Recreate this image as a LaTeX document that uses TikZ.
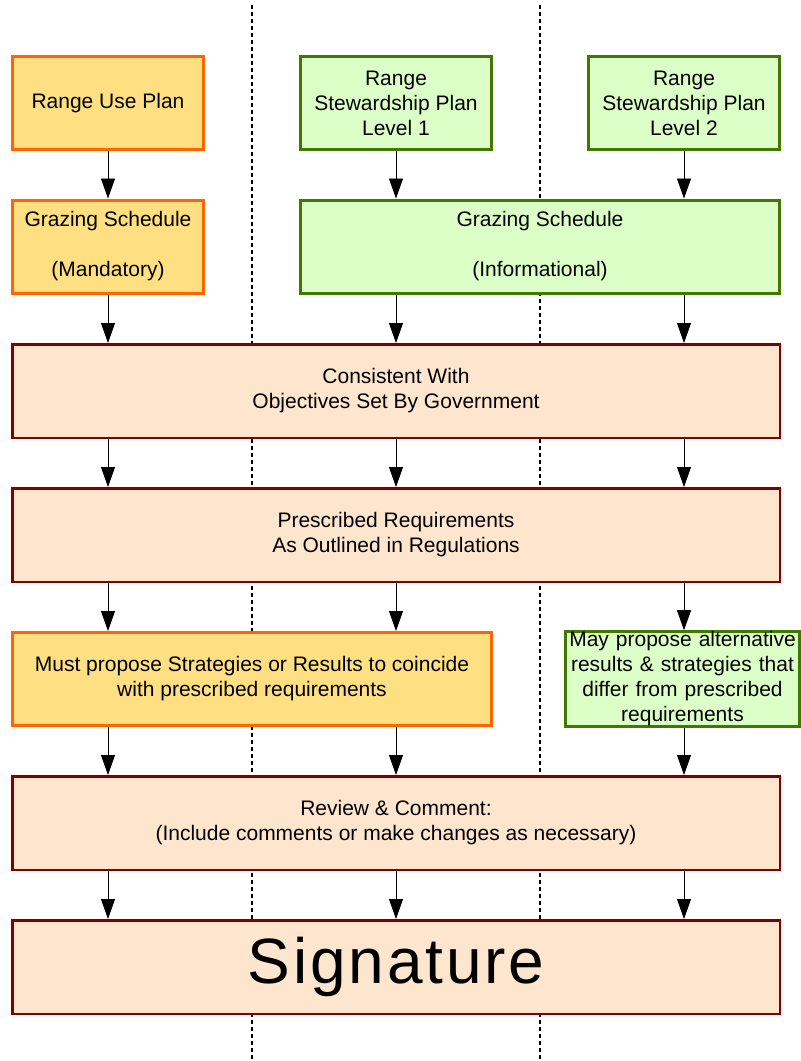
\documentclass[tikz,border=0pt]{standalone}
\usepackage{fontspec}
\setmainfont{Liberation Sans}
\usetikzlibrary{arrows.meta}
\definecolor{orangeline}{RGB}{255,102,0}
\definecolor{orangefill}{RGB}{254,224,131}
\definecolor{greenline}{RGB}{64,120,0}
\definecolor{greenfill}{RGB}{220,255,200}
\definecolor{redline}{RGB}{128,0,0}
\definecolor{peachfill}{RGB}{253,230,205}

\begin{document}
\begin{tikzpicture}[x=1pt,y=-1pt,
  box/.style={draw, rectangle, align=center, inner sep=0pt, text=black,
    font=\fontsize{21}{25}\selectfont},
  orangebox/.style={box, draw=orangeline, fill=orangefill, line width=3pt},
  greenbox/.style={box, draw=greenline, fill=greenfill, line width=3pt},
  redbox/.style={box, draw=redline, fill=peachfill, line width=2.5pt},
  narrow/.style={minimum width=191pt, minimum height=93pt},
  wide/.style={minimum width=767.5pt, minimum height=93.5pt},
  arr/.style={-{Triangle[width=14pt,length=20pt]}, line width=0.8pt, black},
  divider/.style={line width=1.2pt, black, dash pattern=on 4pt off 3pt}]

\useasboundingbox (0,0) rectangle (801,1061);

% column dividers
\coordinate (d1top) at (252,5);
\coordinate (d1bot) at (252,1061);
\coordinate (d2top) at (540,5);
\coordinate (d2bot) at (540,1061);
\draw[divider] (d1top) -- (d1bot);
\draw[divider] (d2top) -- (d2bot);

% plans
\node[orangebox, narrow] (rup) at (108,103) {Range Use Plan};
\node[greenbox, narrow] (rsp1) at (396,103) {Range\\Stewardship Plan\\Level 1};
\node[greenbox, narrow] (rsp2) at (684,103) {Range\\Stewardship Plan\\Level 2};

% grazing schedules
\node[orangebox, narrow] (gsm) at (108,246.5) {Grazing Schedule\\ \\(Mandatory)};
\node[greenbox, minimum width=479pt, minimum height=93pt] (gsi) at (540,246.5)
  {Grazing Schedule\\ \\(Informational)};

% shared steps
\node[redbox, wide] (cons) at (396,391) {Consistent With\\Objectives Set By Government};
\node[redbox, wide] (pres) at (396,535) {Prescribed Requirements\\As Outlined in Regulations};

\node[orangebox, minimum width=479pt, minimum height=93pt] (must) at (252,679)
  {Must propose Strategies or Results to coincide\\with prescribed requirements};
\node[greenbox, minimum width=234pt, minimum height=93pt, text width=232pt] (may) at (682.5,679)
  {May propose alternative\\results \& strategies that\\differ from prescribed\\requirements};

\node[redbox, wide] (rev) at (396,823)
  {Review \& Comment:\\(Include comments or make changes as necessary)};
\node[redbox, wide, font=\fontsize{64}{70}\selectfont\addfontfeature{LetterSpace=4.5}] (sig) at (396,967) {Signature};

% connectors
\draw[arr] (rup.south) -- (gsm.north);
\draw[arr] (rsp1.south) -- (rsp1.south |- gsi.north);
\draw[arr] (rsp2.south) -- (rsp2.south |- gsi.north);

\draw[arr] (gsm.south) -- (gsm.south |- cons.north);
\draw[arr] (gsi.south -| rsp1.south) -- (cons.north -| rsp1.south);
\draw[arr] (gsi.south -| rsp2.south) -- (cons.north -| rsp2.south);

\foreach \c in {rup,rsp1,rsp2}
  \draw[arr] (cons.south -| \c.south) -- (pres.north -| \c.south);

\draw[arr] (pres.south -| rup.south) -- (must.north -| rup.south);
\draw[arr] (pres.south -| rsp1.south) -- (must.north -| rsp1.south);
\draw[arr] (pres.south -| rsp2.south) -- (may.north -| rsp2.south);

\draw[arr] (must.south -| rup.south) -- (rev.north -| rup.south);
\draw[arr] (must.south -| rsp1.south) -- (rev.north -| rsp1.south);
\draw[arr] (may.south -| rsp2.south) -- (rev.north -| rsp2.south);

\foreach \c in {rup,rsp1,rsp2}
  \draw[arr] (rev.south -| \c.south) -- (sig.north -| \c.south);
\end{tikzpicture}
\end{document}
